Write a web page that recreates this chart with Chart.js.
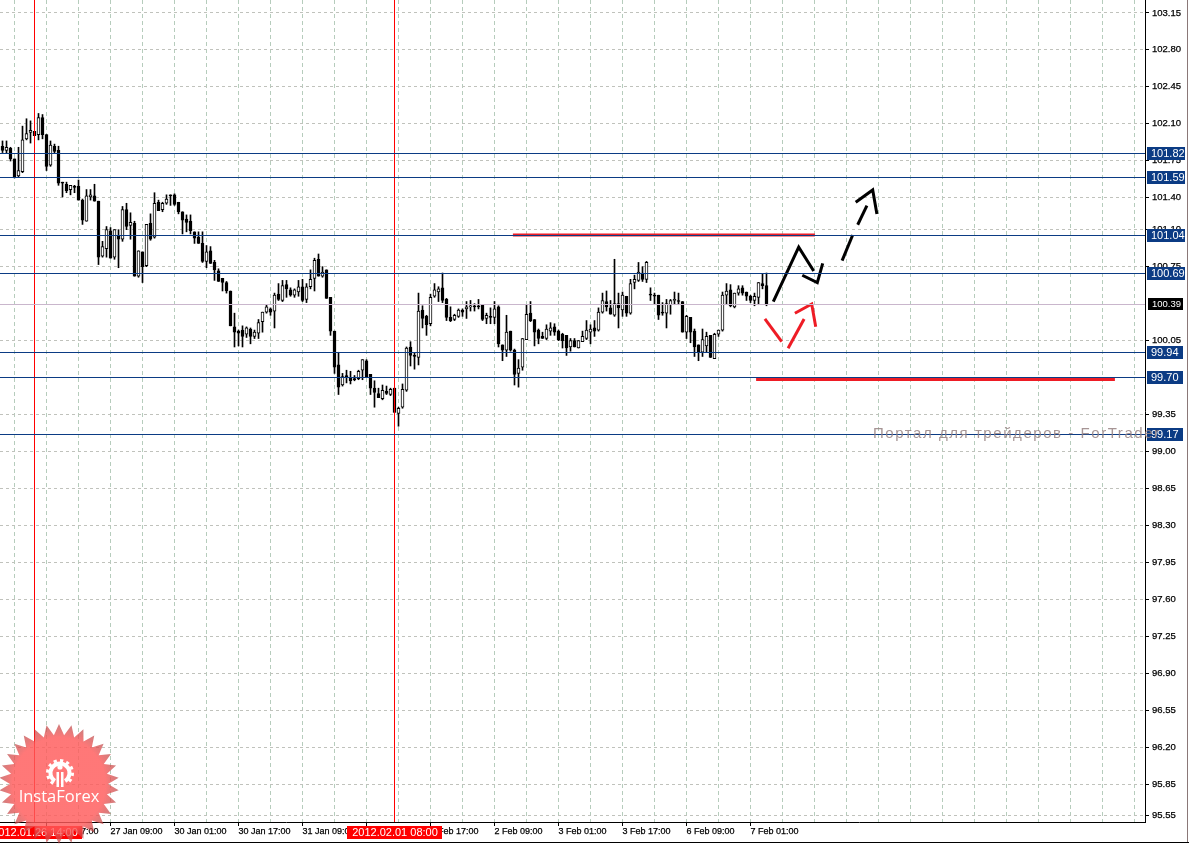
<!DOCTYPE html>
<html>
<head>
<meta charset="utf-8">
<title>Chart</title>
<script src="https://cdn.jsdelivr.net/npm/chart.js@4"></script>
<style>
html, body { margin: 0; padding: 0; background: #fff; }
canvas { display: block; }
</style>
</head>
<body>
<canvas id="chart" width="1189" height="845"></canvas>
<script>
const opens = [
101.88,101.84,101.86,101.76,101.60,101.64,101.95,102.01,102.02,101.99,102.15,101.99,101.70,101.88,101.84,101.54,101.52,101.47,101.50,101.50,
101.37,101.17,101.40,101.41,101.36,100.84,100.91,101.08,100.83,101.03,101.00,101.28,101.13,101.15,100.65,100.88,100.75,101.15,101.02,101.35,
101.28,101.34,101.42,101.42,101.35,101.26,101.19,101.17,101.07,101.02,100.96,100.79,100.89,100.78,100.70,100.63,100.59,100.51,100.17,100.13,
100.14,100.10,100.15,100.08,100.11,100.22,100.31,100.34,100.32,100.48,100.42,100.57,100.52,100.47,100.50,100.55,100.43,100.55,100.63,100.81,
100.65,100.71,100.45,100.13,99.81,99.62,99.71,99.69,99.68,99.68,99.76,99.85,99.72,99.59,99.54,99.49,99.56,99.53,99.59,99.35,
99.41,99.57,99.98,99.90,99.88,100.33,100.27,100.20,100.46,100.50,100.54,100.43,100.26,100.24,100.27,100.33,100.34,100.36,100.37,100.37,
100.38,100.25,100.27,100.26,100.36,100.00,99.95,100.13,99.95,99.73,99.79,100.05,100.30,100.24,100.14,100.08,100.06,100.13,100.17,100.13,
100.10,100.09,99.98,100.04,99.97,100.03,100.06,100.12,100.16,100.14,100.31,100.41,100.35,100.28,100.39,100.33,100.46,100.30,100.59,100.61,
100.68,100.62,100.48,100.47,100.47,100.31,100.30,100.38,100.42,100.42,100.41,100.12,100.26,100.13,100.00,99.93,99.99,100.09,99.87,100.10,
100.14,100.47,100.52,100.36,100.49,100.54,100.50,100.46,100.42,100.45,100.58,100.56];
const highs = [
101.93,101.93,101.87,101.76,101.87,102.07,102.14,102.12,102.02,102.19,102.18,101.99,101.93,101.90,101.88,101.54,101.54,101.51,101.51,101.56,
101.38,101.47,101.47,101.52,101.36,100.98,101.12,101.11,101.09,101.09,101.31,101.34,101.25,101.17,100.89,100.88,101.14,101.24,101.44,101.37,
101.35,101.42,101.42,101.43,101.35,101.26,101.23,101.23,101.07,101.07,101.07,100.94,100.93,100.80,100.72,100.63,100.60,100.51,100.30,100.14,
100.18,100.17,100.16,100.14,100.24,100.31,100.38,100.35,100.49,100.58,100.61,100.61,100.54,100.53,100.61,100.62,100.58,100.71,100.82,100.86,
100.74,100.71,100.45,100.13,99.93,99.73,99.76,99.75,99.71,99.76,99.86,99.86,99.72,99.66,99.59,99.62,99.61,99.59,99.59,99.41,
99.63,99.98,100.03,99.92,100.49,100.37,100.28,100.48,100.58,100.55,100.68,100.44,100.36,100.29,100.34,100.34,100.41,100.42,100.39,100.43,
100.38,100.30,100.35,100.41,100.37,100.00,100.28,100.13,99.96,99.86,100.06,100.38,100.41,100.24,100.15,100.12,100.19,100.21,100.20,100.14,
100.11,100.09,100.06,100.06,100.04,100.13,100.23,100.19,100.23,100.35,100.49,100.51,100.42,100.81,100.49,100.50,100.46,100.62,100.66,100.78,
100.74,100.79,100.54,100.49,100.47,100.40,100.43,100.43,100.50,100.49,100.41,100.28,100.26,100.15,100.00,100.15,100.12,100.09,100.11,100.14,
100.50,100.58,100.57,100.49,100.56,100.56,100.50,100.47,100.49,100.59,100.67,100.68];
const lows = [
101.82,101.81,101.74,101.58,101.59,101.63,101.94,101.91,101.98,101.94,101.95,101.65,101.69,101.81,101.51,101.40,101.44,101.42,101.44,101.37,
101.14,101.17,101.37,101.36,100.76,100.83,100.83,100.82,100.81,100.73,100.98,101.09,101.00,100.65,100.64,100.59,100.74,100.99,101.01,101.27,
101.26,101.33,101.32,101.32,101.24,101.05,101.07,101.05,100.96,100.96,100.78,100.73,100.77,100.61,100.60,100.51,100.49,100.18,99.98,99.99,
99.98,100.07,100.01,100.06,100.06,100.12,100.30,100.28,100.16,100.42,100.41,100.45,100.46,100.45,100.46,100.41,100.40,100.53,100.51,100.65,
100.64,100.44,100.09,99.73,99.53,99.61,99.64,99.63,99.66,99.67,99.67,99.70,99.53,99.41,99.50,99.48,99.53,99.52,99.36,99.23,
99.40,99.56,99.80,99.77,99.81,100.16,100.09,100.18,100.45,100.41,100.40,100.23,100.22,100.23,100.26,100.27,100.25,100.32,100.32,100.34,
100.23,100.20,100.20,100.20,99.98,99.85,99.89,99.94,99.62,99.60,99.76,100.05,100.22,99.99,100.01,100.06,100.05,100.09,100.09,100.04,
99.97,99.90,99.94,99.98,99.97,100.03,100.05,100.01,100.08,100.13,100.30,100.32,100.29,100.27,100.16,100.27,100.27,100.29,100.53,100.60,
100.60,100.59,100.42,100.38,100.24,100.28,100.16,100.29,100.38,100.38,100.12,100.06,100.02,99.89,99.85,99.89,99.93,99.88,99.87,100.08,
100.13,100.38,100.36,100.35,100.47,100.47,100.42,100.40,100.37,100.38,100.53,100.37];
const closes = [
101.84,101.87,101.76,101.59,101.65,101.94,102.00,102.03,101.98,102.15,101.99,101.69,101.89,101.83,101.53,101.53,101.46,101.51,101.49,101.37,
101.18,101.41,101.42,101.36,100.83,100.93,101.09,100.82,101.09,101.00,101.28,101.12,101.16,100.65,100.89,100.74,101.14,101.00,101.34,101.27,
101.34,101.38,101.41,101.33,101.26,101.18,101.16,101.08,101.01,100.96,100.79,100.88,100.77,100.71,100.60,100.59,100.51,100.18,100.12,100.11,
100.08,100.16,100.08,100.12,100.21,100.31,100.36,100.31,100.47,100.43,100.56,100.53,100.47,100.52,100.55,100.42,100.55,100.62,100.80,100.65,
100.69,100.44,100.13,99.79,99.60,99.70,99.69,99.66,99.67,99.75,99.86,99.70,99.59,99.55,99.50,99.57,99.54,99.58,99.36,99.40,
99.58,99.97,99.90,99.89,100.32,100.25,100.19,100.45,100.52,100.53,100.42,100.26,100.23,100.28,100.33,100.31,100.36,100.37,100.36,100.36,
100.24,100.28,100.26,100.34,100.01,99.95,100.12,99.95,99.72,99.78,100.06,100.29,100.23,100.12,100.06,100.06,100.15,100.16,100.12,100.05,
100.04,99.97,100.04,99.98,100.04,100.08,100.14,100.15,100.13,100.31,100.42,100.36,100.29,100.39,100.35,100.47,100.30,100.58,100.62,100.69,
100.62,100.78,100.47,100.46,100.28,100.30,100.39,100.42,100.43,100.41,100.12,100.27,100.12,99.98,99.93,100.05,100.08,99.88,100.10,100.14,
100.47,100.51,100.37,100.49,100.53,100.49,100.46,100.42,100.46,100.59,100.56,100.39];

// prices printed on the right axis
const yTicks = [103.15,102.80,102.45,102.10,101.75,101.40,101.10,100.75,100.05,99.35,99.00,98.65,98.30,97.95,97.60,97.25,96.90,96.55,96.20,95.85,95.55];
// bar number -> time label on the bottom axis
const xLabels = {11:'26 Jan 17:00',27:'27 Jan 09:00',43:'30 Jan 01:00',59:'30 Jan 17:00',75:'31 Jan 09:00',91:'1 Feb 01:00',107:'1 Feb 17:00',123:'2 Feb 09:00',139:'3 Feb 01:00',155:'3 Feb 17:00',171:'6 Feb 09:00',187:'7 Feb 01:00'};

const levels = [101.82, 101.59, 101.04, 100.68, 99.94, 99.70, 99.16];
const levelLabels = ['101.82', '101.59', '101.04', '100.69', '99.94', '99.70', '99.17'];
const bidPrice = 100.39;
const selections = [[8, '2012.01.26 14:00'], [98, '2012.02.01 08:00']];

// hand drawn marks as [bar, price]
const blackStrokes = [
  [[192.7,100.417],[199.05,100.932],[202.8,100.707]],
  [[199.95,100.667],[203.7,100.597],[205.05,100.78]],
  [[209.9,100.805],[212.55,101.048]],
  [[213.8,101.145],[216.1,101.325]],
  [[213.3,101.357],[217.55,101.474],[218.6,101.247]]
];
const redStrokes = [
  [[190.6,100.253],[194.8,100.038]],
  [[196.4,99.976],[200.4,100.253]],
  [[198.1,100.307],[202.3,100.395],[203.3,100.18]]
];
const redLevels = [
  [[127.6,101.048],[203.1,101.048]],
  [[188.4,99.685],[278.1,99.685]]
];

const X_MIN = -0.625, X_MAX = 285.625, Y_MIN = 95.492, Y_MAX = 103.272;
const readBias = 0.008; // candle readings came out about a pixel low against the ticks

const wicks = highs.map((h, i) => ({ x: i, y: [lows[i] + readBias, h + readBias] }));
const bodies = opens.map((o, i) => ({ x: i, y: [Math.min(o, closes[i]) + readBias, Math.max(o, closes[i]) + readBias] }));
const bodyColors = opens.map((o, i) => closes[i] >= o ? '#ffffff' : '#000000');

function lineSet(points, color, width, order) {
  return {
    type: 'line',
    data: points.map(p => ({ x: p[0], y: p[1] })),
    borderColor: color,
    borderWidth: width,
    borderCapStyle: 'butt',
    borderJoinStyle: 'miter',
    pointRadius: 0,
    fill: false,
    tension: 0,
    order: order
  };
}

const datasets = [
  { type: 'bar', data: wicks, backgroundColor: '#000', barThickness: 1, grouped: false, order: 8 },
  { type: 'bar', data: bodies, backgroundColor: bodyColors, borderColor: '#000', borderWidth: 1, borderSkipped: false, barThickness: 3, grouped: false, order: 7 }
];
selections.forEach(s => datasets.push(lineSet([[s[0], Y_MIN], [s[0], Y_MAX]], '#ff0000', 1, 4)));
redLevels.forEach((p, i) => datasets.push(lineSet(p, '#ee1c25', i === 0 ? 3 : 4, 3)));
redStrokes.forEach(p => datasets.push(lineSet(p, '#ee1c25', 3, 2)));
blackStrokes.forEach(p => datasets.push(lineSet(p, '#000000', 3, 1)));

function priceBox(ctx, row, text, left, right, color, font, height) {
  ctx.fillStyle = color;
  ctx.fillRect(left, row - 6, right - left, height);
  ctx.fillStyle = '#fff';
  ctx.font = font;
  ctx.textAlign = 'left';
  ctx.textBaseline = 'middle';
  ctx.fillText(text, left + 4, row + 0.5);
}

function drawLogo(ctx) {
  const cx = 59, cy = 784, outer = 60, inner = 49, spikes = 30;
  ctx.save();
  const fill = ctx.createRadialGradient(cx, cy, 30, cx, cy, outer);
  fill.addColorStop(0, 'rgba(255,90,90,0.82)');
  fill.addColorStop(0.55, 'rgba(255,90,90,0.82)');
  fill.addColorStop(1, 'rgba(185,65,65,0.68)');
  ctx.fillStyle = fill;
  ctx.beginPath();
  for (let i = 0; i < spikes * 2; i++) {
    const r = i % 2 ? inner : outer;
    const a = Math.PI * i / spikes - Math.PI / 2;
    ctx.lineTo(cx + r * Math.cos(a), cy + r * Math.sin(a));
  }
  ctx.closePath();
  ctx.fill();
  // gear, open at the bottom, with the figure standing in it
  const gx = 60, gy = 773;
  ctx.strokeStyle = '#fff';
  ctx.lineWidth = 4;
  ctx.beginPath();
  ctx.arc(gx, gy, 9.5, Math.PI * 0.68, Math.PI * 0.32 + Math.PI * 2);
  ctx.stroke();
  ctx.lineWidth = 3;
  ctx.setLineDash([3.2, 3.2]);
  ctx.beginPath();
  ctx.arc(gx, gy, 12.5, Math.PI * 0.68, Math.PI * 0.32 + Math.PI * 2);
  ctx.stroke();
  ctx.setLineDash([]);
  ctx.fillStyle = '#fff';
  ctx.fillRect(gx - 3.5, 772, 2.5, 15);
  ctx.fillRect(gx + 1, 772, 2.5, 15);
  ctx.beginPath();
  ctx.arc(gx, 767, 2.6, 0, Math.PI * 2);
  ctx.fill();
  ctx.font = '16.5px "Open Sans"';
  ctx.textAlign = 'center';
  ctx.textBaseline = 'middle';
  ctx.fillText('InstaForex', cx, 797.5);
  ctx.restore();
}

const overlay = {
  id: 'overlay',
  afterDatasetsDraw(chart) {
    // one pixel rules, snapped to a row so they stay sharp
    const ctx = chart.ctx;
    const y = chart.scales.y;
    const area = chart.chartArea;
    ctx.fillStyle = '#c9b6cc';
    ctx.fillRect(area.left, Math.floor(y.getPixelForValue(bidPrice)), area.right - area.left, 1);
    ctx.fillStyle = '#0b3b84';
    levels.forEach(v => {
      ctx.fillRect(area.left, Math.floor(y.getPixelForValue(v)), area.right - area.left, 1);
    });
  },
  afterDraw(chart) {
    const ctx = chart.ctx;
    const y = chart.scales.y;
    const x = chart.scales.x;
    const boxFont = '11px "Liberation Sans"';
    levels.forEach((v, i) => {
      const right = v > 100 ? 1185 : 1183;
      priceBox(ctx, Math.floor(y.getPixelForValue(v)), levelLabels[i], 1147, right, '#0b3b84', boxFont, 13);
    });
    priceBox(ctx, Math.floor(y.getPixelForValue(bidPrice)), bidPrice.toFixed(2), 1148, 1183, '#000000', '9.5px "Liberation Sans"', 12);

    // selected bars on the time axis
    selections.forEach(s => {
      const px = Math.round(x.getPixelForValue(s[0]));
      ctx.fillStyle = '#ff0000';
      ctx.fillRect(px - 48, 826, 95, 13);
      ctx.fillStyle = '#fff';
      ctx.font = boxFont;
      ctx.textAlign = 'center';
      ctx.textBaseline = 'middle';
      ctx.fillText(s[1], px, 832.5);
    });

    ctx.save();
    ctx.fillStyle = 'rgba(150,130,130,0.85)';
    ctx.font = '15px "Liberation Sans"';
    ctx.letterSpacing = '1.55px';
    ctx.textAlign = 'left';
    ctx.textBaseline = 'middle';
    ctx.fillText('Портал для трейдеров - ForTrader', 873, 434);
    ctx.restore();

    // frame lines under the time labels and along the right edge
    ctx.fillStyle = '#000';
    ctx.fillRect(0, 842, 1189, 1);
    ctx.fillStyle = '#8a7878';
    ctx.fillRect(1187, 0, 1, 842);
    drawLogo(ctx);
  }
};

new Chart(document.getElementById('chart'), {
  type: 'bar',
  data: { datasets },
  plugins: [overlay],
  options: {
    responsive: false,
    animation: false,
    devicePixelRatio: 1,
    layout: { padding: 0 },
    events: [],
    plugins: { legend: { display: false }, tooltip: { enabled: false } },
    scales: {
      x: {
        type: 'linear',
        position: 'bottom',
        offset: false,
        min: X_MIN,
        max: X_MAX,
        afterBuildTicks(scale) {
          const ticks = [];
          for (let b = 3; b < 286; b += 8) ticks.push({ value: b });
          scale.ticks = ticks;
        },
        afterFit(scale) {
          scale.height = 23;
          scale.paddingLeft = 0;
          scale.paddingRight = 0;
        },
        grid: {
          offset: false,
          color: '#b6ccbc',
          lineWidth: 1,
          tickLength: 4,
          tickColor: ctx => (ctx.tick && xLabels[ctx.tick.value] ? '#000' : 'rgba(0,0,0,0)'),
          tickBorderDash: []
        },
        border: { color: '#000', width: 1, dash: [4, 3] },
        ticks: {
          autoSkip: false,
          maxRotation: 0,
          minRotation: 0,
          align: 'start',
          padding: 0,
          color: '#000',
          textStrokeColor: '#000',
          textStrokeWidth: 0.25,
          font: { family: 'Liberation Sans', size: 9 },
          callback: v => xLabels[v] || ''
        }
      },
      y: {
        type: 'linear',
        position: 'right',
        min: Y_MIN,
        max: Y_MAX,
        afterBuildTicks(scale) { scale.ticks = yTicks.map(v => ({ value: v })); },
        afterFit(scale) {
          scale.width = 44;
          scale.paddingTop = 0;
          scale.paddingBottom = 0;
        },
        grid: {
          color: '#c0c2bc',
          lineWidth: 1,
          tickLength: 4,
          tickColor: '#000',
          tickBorderDash: []
        },
        border: { color: '#000', width: 1, dash: [3, 3] },
        ticks: {
          autoSkip: false,
          padding: 3,
          color: '#000',
          textStrokeColor: '#000',
          textStrokeWidth: 0.25,
          font: { family: 'Liberation Sans', size: 9.5 },
          callback: v => v.toFixed(2)
        }
      }
    }
  }
});
</script>
</body>
</html>
